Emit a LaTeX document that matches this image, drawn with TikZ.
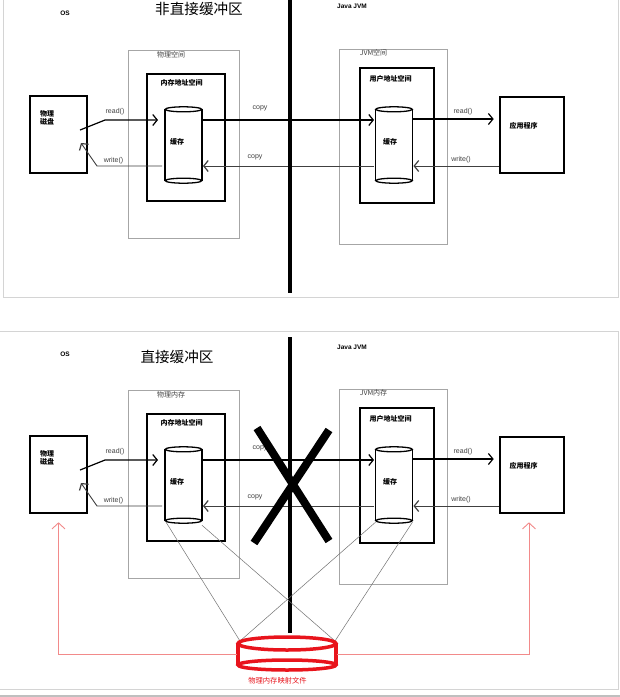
\documentclass[tikz,border=0pt]{standalone}
\usepackage{fontspec}
\setmainfont{Liberation Sans}
\newfontfamily\cjk{Noto Sans CJK SC}
\usetikzlibrary{arrows.meta}
\definecolor{frameg}{HTML}{D4D4D4}
\definecolor{redc}{HTML}{E8141C}
\definecolor{pinkc}{HTML}{F28A8A}
\tikzset{
  bigbox/.style={draw=black, line width=2.6pt, inner sep=0pt},
  graybox/.style={draw=black!35, line width=0.9pt, inner sep=0pt},
  cylnode/.style={inner sep=0pt},
  cylline/.style={draw=black, line width=1.3pt},
  lbl/.style={inner sep=0pt, font=\cjk\fontsize{7}{8.5}\selectfont},
  lblb/.style={inner sep=0pt, font=\cjk\bfseries\fontsize{7}{8.5}\selectfont},
  lbllat/.style={inner sep=0pt, text=black!75, font=\fontsize{7}{8}\selectfont},
  headlat/.style={inner sep=0pt, font=\bfseries\fontsize{6.5}{8}\selectfont},
  title/.style={inner sep=0pt, font=\cjk\fontsize{14.6}{16}\selectfont},
  barb/.style={-{Straight Barb[length=4.5pt,width=11pt,line width=1.2pt]}},
  rdline/.style={draw=black, line width=1.2pt, barb},
  wrline/.style={draw=black!75, line width=0.9pt, barb},
  divider/.style={draw=black, line width=3.5pt},
  crossline/.style={draw=black, line width=8pt},
  mapline/.style={draw=black!55, line width=0.5pt},
  redcyl/.style={draw=redc, line width=3.5pt},
  redarrow/.style={draw=pinkc, line width=0.9pt, -{Straight Barb[length=6pt,width=13pt,line width=0.9pt]}},
  frame/.style={draw=frameg, line width=1pt},
}
\newcommand\drawcyl[1]{%
  \draw[cylline] ([yshift=-2.5pt]#1.north west) -- ([yshift=2.5pt]#1.south west);
  \draw[cylline] ([yshift=-2.5pt]#1.north east) -- ([yshift=2.5pt]#1.south east);
  \draw[cylline] ([yshift=-2.5pt]#1.north) ellipse [x radius=18.2pt, y radius=2.5pt];
  \draw[cylline] ([yshift=2.5pt]#1.south) ellipse [x radius=18.2pt, y radius=2.5pt];
}
\newcommand\drawpanel[3]{%
  % left (OS) side
  \node[bigbox, minimum width=57pt, minimum height=77pt] (#1disk) at (58.5,134.5) {};
  \node[lblb, align=left, anchor=north west] (#1diskt) at (40,110) {物理\\磁盘};
  \node[graybox, minimum width=111pt, minimum height=188pt] (#1outL) at (183.5,144) {};
  \node[lbl, text=black!75] (#1outLt) at (171,55) {#2};
  \node[bigbox, minimum width=78pt, minimum height=127pt] (#1inL) at (186,137.5) {};
  \node[lblb] (#1inLt) at (181.5,83) {内存地址空间};
  \node[cylnode, minimum width=36.5pt, minimum height=76pt] (#1cylL) at (183.5,145) {};
  \drawcyl{#1cylL}
  \node[lblb] (#1cylLt) at (177,142) {缓存};
  % right (JVM) side
  \node[graybox, minimum width=108pt, minimum height=195pt] (#1outR) at (393,146.5) {};
  \node[lbl, text=black!75] (#1outRt) at (373.5,53) {#3};
  \node[bigbox, minimum width=74pt, minimum height=135pt] (#1inR) at (397,135.5) {};
  \node[lblb] (#1inRt) at (390.5,79) {用户地址空间};
  \node[cylnode, minimum width=36.5pt, minimum height=76pt] (#1cylR) at (394,145) {};
  \drawcyl{#1cylR}
  \node[lblb] (#1cylRt) at (390,142) {缓存};
  \node[bigbox, minimum width=64pt, minimum height=76pt] (#1app) at (532,135) {};
  \node[lblb] (#1appt) at (523.5,126) {应用程序};
  % connectors
  \coordinate (#1rdA) at (80,130);
  \coordinate (#1rdB) at (105,120);
  \coordinate (#1rdC) at (158,120);
  \coordinate (#1rry) at (0,119);
  \coordinate (#1wy) at (0,166);
  \coordinate (#1wB) at (97,166);
  \coordinate (#1wC) at (81,143);
  \draw[rdline] (#1rdA) -- (#1rdB) -- (#1rdC);
  \draw[rdline] (#1cylL.east |- #1rdB) -- ([xshift=-1.5pt]#1cylR.west |- #1rdB);
  \draw[rdline] (#1cylR.east |- #1rry) -- ([xshift=-5pt]#1app.west |- #1rry);
  \draw[wrline] (#1app.west |- #1wy) -- ([xshift=1pt]#1cylR.east |- #1wy);
  \draw[wrline] ([xshift=-1.5pt]#1cylR.west |- #1wy) -- ([xshift=1pt]#1cylL.east |- #1wy);
  \draw[wrline] ([xshift=-3pt]#1cylL.west |- #1wy) -- (#1wB) -- (#1wC);
  \node[lbllat] (#1rdLt) at (115,112) {read()};
  \node[lbllat] (#1cpTt) at (260,108) {copy};
  \node[lbllat] (#1cpBt) at (255,157) {copy};
  \node[lbllat] (#1wrLt) at (113.5,161) {write()};
  \node[lbllat] (#1rdRt) at (463,112) {read()};
  \node[lbllat] (#1wrRt) at (461,160) {write()};
}
\begin{document}
\begin{tikzpicture}[x=1pt, y=-1pt]
\useasboundingbox (0,0) rectangle (620,697);
\fill[white] (0,0) rectangle (620,697);
% frames
\coordinate (f1) at (3,0); \coordinate (f2) at (3,297);
\coordinate (f3) at (618,297); \coordinate (f4) at (618,0);
\draw[frame] (f1) -- (f2) -- (f3) -- (f4);
\coordinate (g1) at (0,331); \coordinate (g2) at (618,331);
\coordinate (g3) at (618,689); \coordinate (g4) at (0,689);
\draw[frame] (g1) -- (g2) -- (g3) -- (g4);
\coordinate (h1) at (0,696); \coordinate (h2) at (620,696);
\draw[frame, draw=black!25, line width=1.5pt] (h1) -- (h2);

% top panel
\node[title] (t1) at (199,9) {非直接缓冲区};
\node[headlat] (os1) at (65,13) {OS};
\node[headlat] (jv1) at (352,6) {Java JVM};
\drawpanel{a}{物理空间}{JVM空间}
\coordinate (va1) at (290,0); \coordinate (va2) at (290,293);
\draw[divider] (va1) -- (va2);

% bottom panel
\node[title] (t2) at (177,357) {直接缓冲区};
\node[headlat] (os2) at (65,354) {OS};
\node[headlat] (jv2) at (352,347) {Java JVM};
\begin{scope}[shift={(0,340)}]
\drawpanel{b}{物理内存}{JVM内存}
\end{scope}
\coordinate (vb1) at (290,337); \coordinate (vb2) at (290,633);
\draw[divider] (vb1) -- (vb2);

% big X
\coordinate (xa1) at (257,428); \coordinate (xa2) at (329,541);
\coordinate (xb1) at (329,430); \coordinate (xb2) at (254,543);
\draw[crossline] (xa1) -- (xa2);
\draw[crossline] (xb1) -- (xb2);

% red mapped file cylinder
\node[inner sep=0pt, minimum width=100pt, minimum height=28pt] (rcyl) at (287,654) {};
\coordinate (rTL) at (240,641); \coordinate (rTR) at (335,641);
\draw[mapline] ([xshift=1pt,yshift=1pt]bcylL.south west) -- (rTL);
\draw[mapline] ([yshift=-2pt]bcylL.south east) -- (rTR);
\draw[mapline] ([yshift=1pt]bcylR.south west) -- (rTL);
\draw[mapline] ([yshift=1pt]bcylR.south east) -- (rTR);
\draw[redcyl] (287,643.5) ellipse [x radius=49pt, y radius=6.5pt];
\draw[redcyl] (287,665) ellipse [x radius=49pt, y radius=5pt];
\draw[redcyl] (238,643.5) -- (238,665);
\draw[redcyl] (336,643.5) -- (336,665);
\node[inner sep=0pt, text=redc, font=\cjk\fontsize{7.3}{8}\selectfont] (rlbl) at (277.5,681) {物理内存映射文件};
\draw[redarrow] (rcyl.west) -| ([yshift=-8pt]bdisk.south);
\draw[redarrow] (rcyl.east) -| ([xshift=-3pt,yshift=-8pt]bapp.south);
\end{tikzpicture}
\end{document}
